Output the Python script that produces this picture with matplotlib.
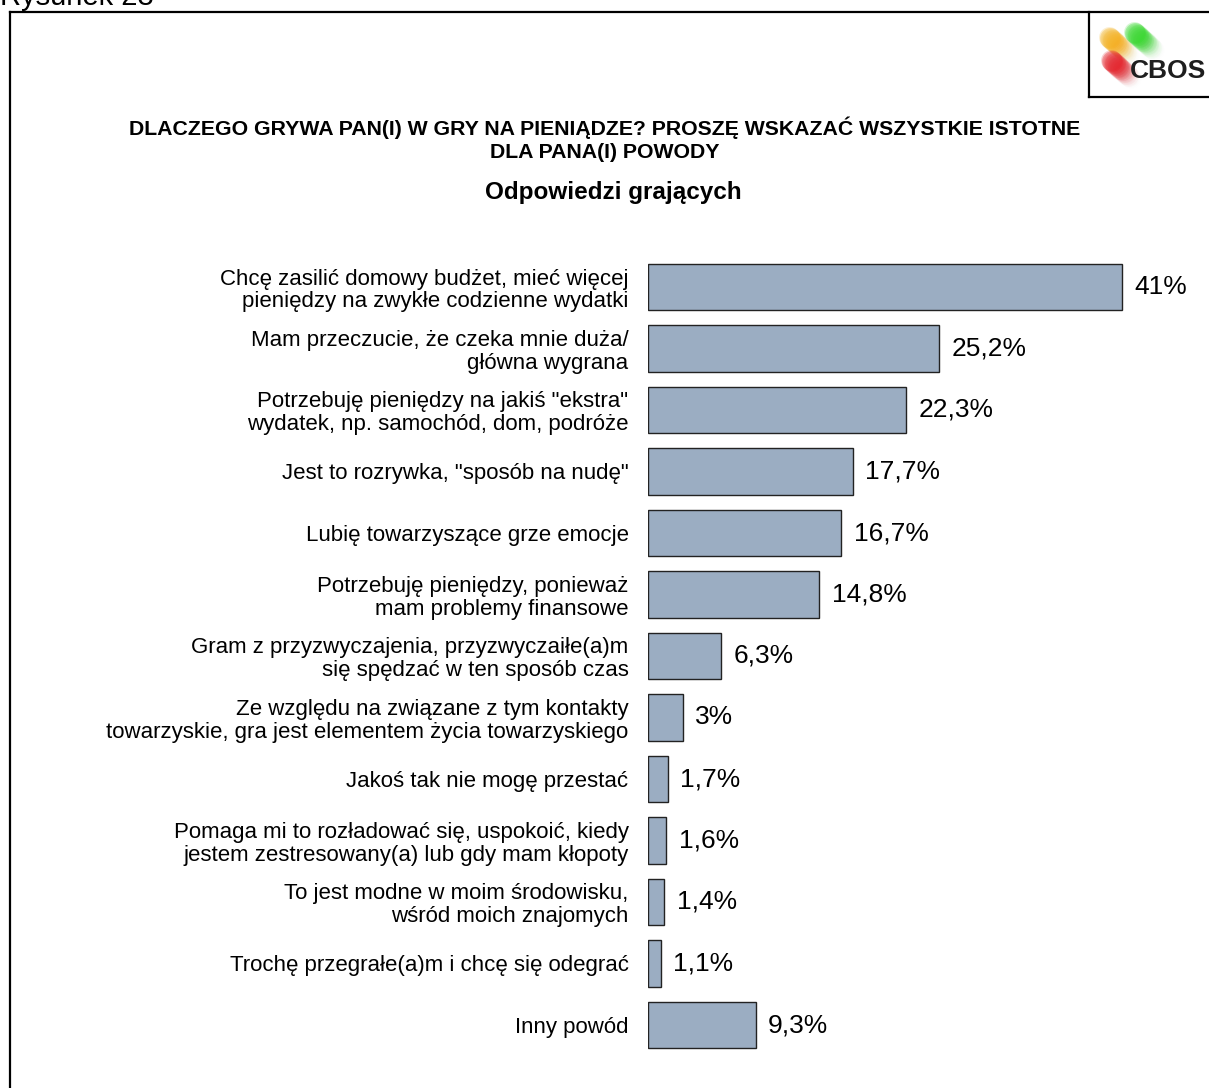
import numpy as np
import matplotlib
matplotlib.use("Agg")
import matplotlib.pyplot as plt
from matplotlib.lines import Line2D

plt.rcParams['font.family'] = ['Liberation Sans', 'DejaVu Sans']

# Powody gry na pieniądze (odpowiedzi grających, %)
reasons = [
    "Chcę zasilić domowy budżet, mieć więcej\npieniędzy na zwykłe codzienne wydatki",
    "Mam przeczucie, że czeka mnie duża/\ngłówna wygrana",
    "Potrzebuję pieniędzy na jakiś \"ekstra\"\nwydatek, np. samochód, dom, podróże",
    "Jest to rozrywka, \"sposób na nudę\"",
    "Lubię towarzyszące grze emocje",
    "Potrzebuję pieniędzy, ponieważ\nmam problemy finansowe",
    "Gram z przyzwyczajenia, przyzwyczaiłe(a)m\nsię spędzać w ten sposób czas",
    "Ze względu na związane z tym kontakty\ntowarzyskie, gra jest elementem życia towarzyskiego",
    "Jakoś tak nie mogę przestać",
    "Pomaga mi to rozładować się, uspokoić, kiedy\njestem zestresowany(a) lub gdy mam kłopoty",
    "To jest modne w moim środowisku,\nwśród moich znajomych",
    "Trochę przegrałe(a)m i chcę się odegrać",
    "Inny powód",
]
shares = [41, 25.2, 22.3, 17.7, 16.7, 14.8, 6.3, 3, 1.7, 1.6, 1.4, 1.1, 9.3]

W, H = 1209, 1088
fig = plt.figure(figsize=(W / 100, H / 100), dpi=100)


def px(x, y):
    """Piksele (od lewego górnego rogu) -> współrzędne figury."""
    return x / W, 1 - y / H


# Ramka rysunku i pole na logo
frame = dict(color="black", lw=1.6, transform=fig.transFigure)
fig.add_artist(Line2D([10 / W, 10 / W], [px(0, 12)[1], 0], **frame))
fig.add_artist(Line2D([10 / W, 1], [px(0, 12)[1]] * 2, **frame))
fig.add_artist(Line2D([1089 / W] * 2, [px(0, 12)[1], px(0, 97)[1]], **frame))
fig.add_artist(Line2D([1089 / W, 1], [px(0, 97)[1]] * 2, **frame))

fig.text(*px(0, 5), "Rysunek 23", fontsize=21, va="baseline", ha="left")

# Tytuł
fig.text(*px(605, 128), "DLACZEGO GRYWA PAN(I) W GRY NA PIENIĄDZE? PROSZĘ WSKAZAĆ WSZYSTKIE ISTOTNE",
         fontsize=15.3, fontweight="bold", ha="center", va="center")
fig.text(*px(605, 152), "DLA PANA(I) POWODY",
         fontsize=15.3, fontweight="bold", ha="center", va="center")
fig.text(*px(613, 193), "Odpowiedzi grających",
         fontsize=17.5, fontweight="bold", ha="center", va="center")

# Logo CBOS
lax = fig.add_axes([1090 / W, 1 - 97 / H, 119 / W, 85 / H])
lax.set_xlim(1090, 1209)
lax.set_ylim(97, 12)
lax.axis("off")
for (x0, y0, x1, y1, col) in [(1109, 37, 1130, 56, "#f4b01c"),
                              (1134, 32, 1155, 51, "#34d82a"),
                              (1111, 60, 1132, 79, "#e41e26")]:
    for t in np.linspace(0, 1, 30):
        lax.plot(x0 + (x1 - x0) * t, y0 + (y1 - y0) * t, "o", ms=15,
                 color=col, alpha=0.2 * (1 - t) ** 1.5, mec="none")
lax.text(1168, 71, "CBOS", fontsize=19, fontweight="bold", color="#1e1e1e",
         ha="center", va="center")

# Wykres słupkowy
n = len(shares)
top_c, step = 287, 61.5
y_top = top_c - step / 2
y_bot = top_c + step * (n - 0.5)
ax = fig.add_axes([648 / W, 1 - y_bot / H, (W - 648) / W, (y_bot - y_top) / H])
ax.set_xlim(0, (W - 648) / 11.56)
ax.set_ylim(n - 0.5, -0.5)

pos = np.arange(n)
ax.barh(pos, shares, height=0.76, color="#9badc2", edgecolor="#222222", linewidth=1)
for p, v in zip(pos, shares):
    ax.annotate(f"{v:g}".replace(".", ",") + "%", (v, p), xytext=(9, 0),
                textcoords="offset points", va="center", ha="left", fontsize=19)

ax.set_yticks(pos)
ax.set_yticklabels(reasons, fontsize=16, ma="right", linespacing=1.1)
ax.tick_params(axis="y", length=0, pad=14)
ax.set_xticks([])
for s in ax.spines.values():
    s.set_visible(False)

fig.savefig("out.png", dpi=100)
